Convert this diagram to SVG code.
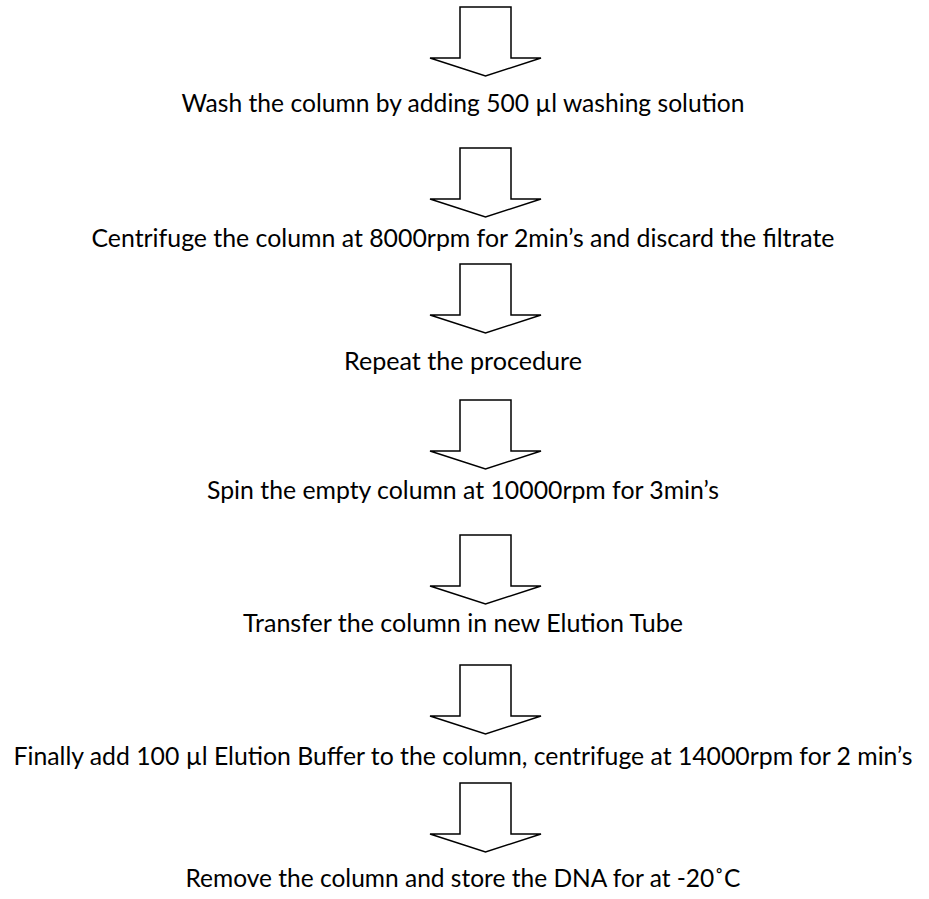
<svg xmlns="http://www.w3.org/2000/svg" width="929" height="899" viewBox="0 0 929 899">
<style>
.t{font-family:Lato,"Open Sans","DejaVu Sans",sans-serif;font-size:25px;fill:#000;text-anchor:middle}
.a{fill:#fff;stroke:#000;stroke-width:1.5;stroke-linejoin:miter}
</style>
<defs>
<path id="arr" d="M460,0 V51 H430 L485.5,69 L541,51 H511 V0 Z"/>
</defs>
<rect width="929" height="899" fill="#fff"/>
<g id="connectors">
<use href="#arr" class="a" x="0" y="7"/>
<use href="#arr" class="a" x="0" y="148"/>
<use href="#arr" class="a" x="0" y="264"/>
<use href="#arr" class="a" x="0" y="400"/>
<use href="#arr" class="a" x="0" y="535"/>
<use href="#arr" class="a" x="0" y="665"/>
<use href="#arr" class="a" x="0" y="783"/>
</g>
<g id="step1"><text class="t" x="463" y="112" textLength="563" lengthAdjust="spacingAndGlyphs">Wash the column by adding 500 µl washing solution</text></g>
<g id="step2"><text class="t" x="463" y="247" textLength="743" lengthAdjust="spacingAndGlyphs">Centrifuge the column at 8000rpm for 2min’s and discard the filtrate</text></g>
<g id="step3"><text class="t" x="463" y="370" textLength="238" lengthAdjust="spacingAndGlyphs">Repeat the procedure</text></g>
<g id="step4"><text class="t" x="463" y="499" textLength="512" lengthAdjust="spacingAndGlyphs">Spin the empty column at 10000rpm for 3min’s</text></g>
<g id="step5"><text class="t" x="463" y="632" textLength="440" lengthAdjust="spacingAndGlyphs">Transfer the column in new Elution Tube</text></g>
<g id="step6"><text class="t" x="463" y="765" textLength="899" lengthAdjust="spacingAndGlyphs">Finally add 100 µl Elution Buffer to the column, centrifuge at 14000rpm for 2 min’s</text></g>
<g id="step7"><text class="t" x="463" y="887" textLength="555" lengthAdjust="spacingAndGlyphs">Remove the column and store the DNA for at -20˚C</text></g>
</svg>
